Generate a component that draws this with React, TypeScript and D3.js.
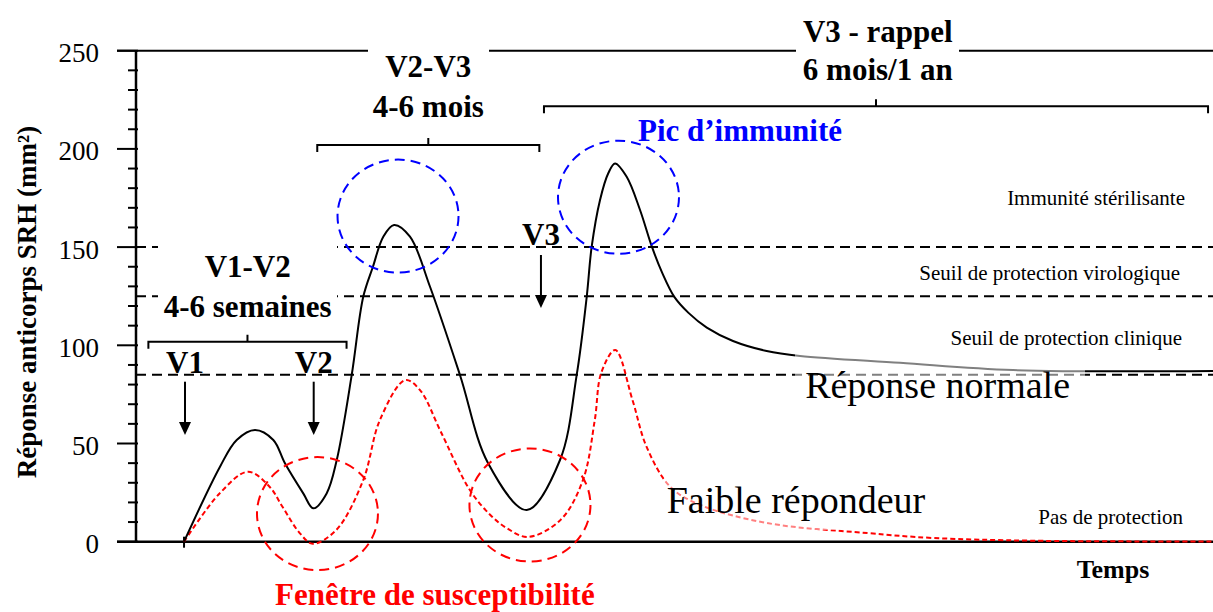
import React from 'react';
import * as d3 from 'd3';

// svg size
const svgWidth = 1213;
const svgHeight = 612;
const FONT = "'Liberation Serif', 'Times New Roman', Times, serif";

// y axis ticks
const yMajorTicks = [0, 50, 100, 150, 200, 250];
const yMinorTicks = d3.range(0, 251, 10).filter((v) => v % 50 !== 0);

// protection thresholds (dashed lines)
const thresholds = [150, 125, 85];

// normal response (black curve), time in arbitrary units
const normalTime = [4.46, 7.8, 9.35, 11.05, 12.75, 13.83, 15.53, 16.46, 17.7, 18.64, 20.03, 21.1, 22.0, 22.96, 23.96, 25.44, 27.3, 30.08, 32.68, 36.28, 39.37, 40.92, 41.85, 42.31, 43.08, 43.85, 44.48, 45.56, 46.8, 47.9, 48.85, 50.0, 51.3, 53.0, 55.43, 58.56, 61.65, 70.94, 81.43, 100];
const normalResponse = [0, 38.2, 51.8, 56.9, 51.8, 39.9, 24.6, 17, 24.6, 41.6, 84.9, 124.7, 140, 155.3, 161.3, 155.3, 129.8, 84.9, 40.1, 16.1, 41.6, 84.9, 124.7, 150.2, 173.9, 187.6, 192.6, 185.8, 168.9, 150.2, 137, 124.5, 116.5, 109, 102.2, 97.1, 94.6, 91.1, 87.4, 86.9];

// weak responder (red dashed curve)
const weakTime = [4.46, 7.8, 10.4, 12.4, 13.6, 15.2, 16.4, 18.6, 21.1, 22.65, 25.0, 26.37, 28.3, 31.0, 32.9, 34.4, 36.4, 39.4, 41.5, 42.6, 43.2, 44.5, 46.1, 47.4, 49.6, 52.4, 58.6, 67.9, 74.0, 83.3, 100];
const weakResponse = [0, 24.8, 35.6, 28, 17.8, 4.4, -1, 6, 31.4, 62, 82.3, 77.2, 56, 26.3, 13.6, 7, 2.4, 11, 31.4, 62, 86, 97.6, 72.1, 48.4, 28, 18.7, 9.5, 4.4, 1.9, 0.5, 0.1];

// vaccination arrows
const doseLabels = ['V1', 'V2', 'V3'];
const doseTime = [4.55, 16.5, 37.6];

// dashed circles [time, response]
const peakCircles = [[24.33, 165.8], [44.8, 175.4]];
const troughCircles = [[16.85, 14.3], [36.58, 18.7]];

const xScale = d3.scaleLinear().domain([0, 100]).range([136, 1213]);
const yScale = d3.scaleLinear().domain([0, 250]).range([541.7, 50.7]);

const line = d3.line<[number, number]>()
  .x((d) => xScale(d[0]))
  .y((d) => yScale(d[1]))
  .curve(d3.curveCatmullRom.alpha(0.5));

const normalPath = line(normalTime.map((t, i) => [t, normalResponse[i]] as [number, number])) || '';
const weakPath = line(weakTime.map((t, i) => [t, weakResponse[i]] as [number, number])) || '';

// bracket: horizontal line with end hooks going down and a center nub going up
const Bracket = ({ x0, x1, y }: { x0: number; x1: number; y: number }) => {
  const px0 = xScale(x0);
  const px1 = xScale(x1);
  const py = yScale(y);
  const mid = (px0 + px1) / 2;
  return (
    <path
      d={`M${px0},${py + 7} L${px0},${py} L${px1},${py} L${px1},${py + 7} M${mid},${py} L${mid},${py - 7}`}
      fill="none"
      stroke="#000"
      strokeWidth={2}
    />
  );
};

const Arrow = ({ x, top, tip }: { x: number; top: number; tip: number }) => (
  <g>
    <line x1={x} x2={x} y1={top} y2={tip - 10} stroke="#000" strokeWidth={2} />
    <path d={`M${x - 6},${tip - 13} L${x + 6},${tip - 13} L${x},${tip} Z`} fill="#000" />
  </g>
);

const boldLabel = { fontFamily: FONT, fontWeight: 700, fontSize: 31 } as const;

export default function App() {
  const y0 = yScale(0);
  const yTop = yScale(250);

  return (
    <svg
      width={svgWidth}
      height={svgHeight}
      style={{ position: 'absolute', left: 0, top: 0, background: '#fff' }}
    >
      {/* threshold dashed lines */}
      {thresholds.map((t) => (
        <line key={t} x1={136} x2={svgWidth} y1={yScale(t)} y2={yScale(t)}
          stroke="#000" strokeWidth={2} strokeDasharray="10,6" />
      ))}

      {/* top line at 250 and baseline */}
      <line x1={117} x2={svgWidth} y1={yTop} y2={yTop} stroke="#000" strokeWidth={2} />
      <line x1={117} x2={svgWidth} y1={y0} y2={y0} stroke="#000" strokeWidth={2.5} />
      <line x1={xScale(normalTime[0])} x2={xScale(normalTime[0])} y1={y0 - 5} y2={y0 + 6} stroke="#000" strokeWidth={2} />

      {/* y axis */}
      <line x1={136} x2={136} y1={yTop} y2={y0} stroke="#000" strokeWidth={2.5} />
      {yMajorTicks.map((v) => (
        <g key={v}>
          <line x1={117} x2={138} y1={yScale(v)} y2={yScale(v)} stroke="#000" strokeWidth={2} />
          <text x={99} y={yScale(v) + 11.5} textAnchor="end" fontFamily={FONT} fontSize={27}>{v}</text>
        </g>
      ))}
      {yMinorTicks.map((v) => (
        <line key={v} x1={128} x2={138} y1={yScale(v)} y2={yScale(v)} stroke="#000" strokeWidth={2} />
      ))}
      <text transform="translate(36,302) rotate(-90)" textAnchor="middle"
        fontFamily={FONT} fontWeight={700} fontSize={27}>Réponse anticorps SRH (mm²)</text>

      {/* curves */}
      <path d={weakPath} fill="none" stroke="#ff0000" strokeWidth={2} strokeDasharray="5,3" />
      <path d={normalPath} fill="none" stroke="#000" strokeWidth={2} />

      {/* circles */}
      {peakCircles.map((c, i) => (
        <ellipse key={'p' + i} cx={xScale(c[0])} cy={yScale(c[1])} rx={60.5} ry={56.5}
          fill="none" stroke="#0000ff" strokeWidth={2} strokeDasharray="10,6" />
      ))}
      {troughCircles.map((c, i) => (
        <ellipse key={'t' + i} cx={xScale(c[0])} cy={yScale(c[1])} rx={60.5} ry={56.5}
          fill="none" stroke="#ff0000" strokeWidth={2} strokeDasharray="10,6" />
      ))}

      {/* masks behind labels */}
      <rect x={158} y={243} width={179} height={79} fill="#fff" />
      <rect x={368} y={40} width={121} height={82} fill="#fff" />
      <rect x={796} y={10} width={163} height={78} fill="#fff" />
      <rect x={795} y={348} width={290} height={62} fill="#fff" opacity={0.5} />
      <rect x={664} y={470} width={261} height={60} fill="#fff" opacity={0.5} />

      {/* brackets */}
      <Bracket x0={1.15} x1={19.55} y={101.8} />
      <Bracket x0={16.83} x1={37.45} y={202} />
      <Bracket x0={37.88} x1={99.54} y={221.7} />

      {/* interval labels */}
      <text x={247.7} y={276.7} textAnchor="middle" {...boldLabel}>V1-V2</text>
      <text x={247.7} y={317} textAnchor="middle" {...boldLabel}>4-6 semaines</text>
      <text x={428.3} y={76.7} textAnchor="middle" {...boldLabel}>V2-V3</text>
      <text x={428.3} y={117.3} textAnchor="middle" {...boldLabel}>4-6 mois</text>
      <text x={877.8} y={41.7} textAnchor="middle" {...boldLabel}>V3 - rappel</text>
      <text x={877.8} y={80} textAnchor="middle" {...boldLabel}>6 mois/1 an</text>

      {/* dose arrows */}
      {doseLabels.map((d, i) => {
        const px = xScale(doseTime[i]);
        const isV3 = i === 2;
        return (
          <g key={d}>
            <text x={px} y={isV3 ? 245 : 372.7} textAnchor="middle" {...boldLabel}>{d}</text>
            <Arrow x={px} top={isV3 ? 255 : 381.7} tip={isV3 ? 308 : 435} />
          </g>
        );
      })}

      <text x={638} y={140.7} fill="#0000ff" {...boldLabel}>Pic d’immunité</text>
      <text x={275} y={605} fill="#ff0000" {...boldLabel}>Fenêtre de susceptibilité</text>
      <text x={1113} y={578} textAnchor="middle" fontFamily={FONT} fontWeight={700} fontSize={26}>Temps</text>

      <text x={937.6} y={398} textAnchor="middle" fontFamily={FONT} fontSize={38}>Réponse normale</text>
      <text x={796} y={513} textAnchor="middle" fontFamily={FONT} fontSize={38}>Faible répondeur</text>

      <text x={1185} y={205} textAnchor="end" fontFamily={FONT} fontSize={21}>Immunité stérilisante</text>
      <text x={1180} y={280} textAnchor="end" fontFamily={FONT} fontSize={21}>Seuil de protection virologique</text>
      <text x={1182} y={345} textAnchor="end" fontFamily={FONT} fontSize={21}>Seuil de protection clinique</text>
      <text x={1183} y={524} textAnchor="end" fontFamily={FONT} fontSize={21}>Pas de protection</text>
    </svg>
  );
}
